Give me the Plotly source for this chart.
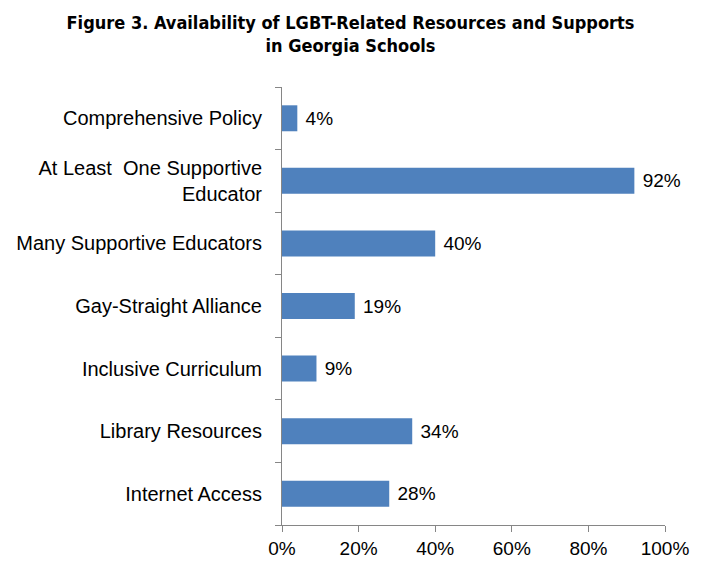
import plotly.graph_objects as go

categories = ["Comprehensive Policy", "At Least\u00a0 One Supportive<br>Educator",
              "Many Supportive Educators", "Gay-Straight Alliance",
              "Inclusive Curriculum", "Library Resources", "Internet Access"]
values = [4, 92, 40, 19, 9, 34, 28]
x_ticks = [0, 20, 40, 60, 80, 100]
x_tick_labels = ["0%", "20%", "40%", "60%", "80%", "100%"]

W, H = 697, 553  # page body has an 8px default margin

fig = go.Figure(go.Bar(
    y=categories, x=values, orientation="h",
    marker=dict(color="#4F81BD", line=dict(width=0)),
    text=[f" {v}%" for v in values], textposition="outside",
    textfont=dict(family="Liberation Sans, Arial", size=19, color="#000000"),
    cliponaxis=False,
))

fig.update_layout(
    width=W, height=H,
    paper_bgcolor="white", plot_bgcolor="white",
    margin=dict(l=274, r=40, t=79, b=36),
    bargap=0.585,
    showlegend=False,
    title=dict(
        text="<b>Figure 3. Availability of LGBT-Related Resources and Supports<br>in Georgia Schools</b>",
        x=0.4914, xanchor="center", y=1 - 21 / H, yanchor="top",
        font=dict(family="DejaVu Sans Condensed, Roboto Condensed, Liberation Sans Narrow", size=18, color="#000000"),
    ),
    font=dict(family="Liberation Sans, Arial", size=20, color="#000000"),
)

fig.update_yaxes(
    categoryorder="array", categoryarray=categories[::-1],
    showline=True, linecolor="#868686", linewidth=1,
    ticks="outside", ticklen=6, tickcolor="#868686", tickson="boundaries",
    showgrid=False, ticklabelstandoff=15, automargin=False,
    tickfont=dict(size=20),
)
fig.update_xaxes(
    range=[0, 100], tickvals=x_ticks, ticktext=x_tick_labels,
    showline=True, linecolor="#868686", linewidth=1,
    ticks="outside", ticklen=6, tickcolor="#868686",
    showgrid=False, zeroline=False, automargin=False,
    tickfont=dict(size=19),
)

fig.write_html("out.html")
